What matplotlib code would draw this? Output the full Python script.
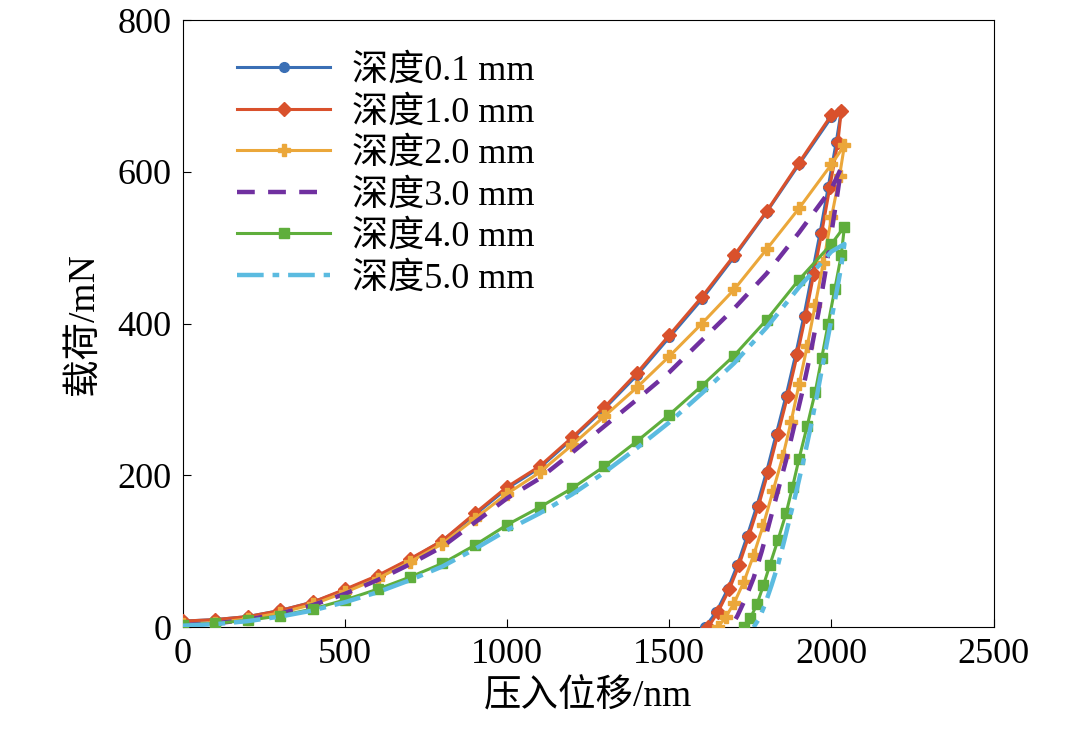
import matplotlib
matplotlib.use("Agg")
import matplotlib.pyplot as plt

plt.rcParams['font.family'] = ['Liberation Serif', 'Noto Sans CJK SC']

labels = ["深度0.1 mm", "深度1.0 mm", "深度2.0 mm", "深度3.0 mm", "深度4.0 mm", "深度5.0 mm"]
colors = ["#3a6fb5", "#d9512c", "#eba73a", "#7030a0", "#5fae3c", "#5bbbe0"]
markers = ["o", "D", "P", None, "s", None]
styles = ["-", "-", "-", (0, (4, 3)), "-", (0, (6, 2, 1.5, 2))]

load_h = [0, 100, 200, 300, 400, 500, 600, 700, 800, 900, 1000, 1100, 1200, 1300,
          1400, 1500, 1600, 1700, 1800, 1900, 2000]
load_p = [
    [8, 10, 14, 22, 33, 49, 67, 89, 114, 148, 183, 210, 248, 288, 332, 382, 432, 488, 547, 610, 672],
    [8, 10, 14, 22, 33, 50, 68, 90, 114, 150, 185, 212, 250, 290, 335, 385, 435, 490, 548, 612, 675],
    [4, 6, 11, 19, 30, 46, 64, 86, 110, 143, 176, 204, 240, 278, 316, 357, 400, 445, 498, 552, 610],
    [3, 5, 10, 18, 29, 44, 62, 83, 106, 138, 170, 196, 230, 265, 300, 336, 378, 420, 466, 520, 578],
    [3, 5, 9, 15, 24, 36, 50, 66, 84, 108, 135, 158, 183, 212, 245, 280, 318, 358, 405, 458, 505],
    [2, 4, 8, 14, 22, 33, 46, 62, 80, 103, 128, 150, 175, 204, 236, 270, 308, 348, 395, 448, 495],
]
peak_h = [2030, 2030, 2040, 2030, 2040, 2040]
peak_p = [680, 680, 635, 605, 528, 505]

unload_h = [
    [2015, 1990, 1965, 1940, 1915, 1890, 1860, 1830, 1800, 1770, 1740, 1710, 1680, 1645, 1610],
    [2020, 1995, 1970, 1945, 1920, 1895, 1865, 1835, 1805, 1775, 1745, 1715, 1685, 1650, 1620],
    [2025, 2000, 1975, 1950, 1925, 1900, 1875, 1850, 1820, 1790, 1760, 1730, 1700, 1675, 1650],
    [2018, 2000, 1980, 1960, 1935, 1910, 1885, 1860, 1835, 1810, 1785, 1760, 1735, 1710, 1690],
    [2030, 2010, 1990, 1970, 1950, 1925, 1900, 1880, 1860, 1835, 1810, 1790, 1770, 1750, 1730],
    [2030, 2015, 1995, 1975, 1955, 1935, 1915, 1895, 1875, 1855, 1835, 1815, 1795, 1778, 1760],
]
unload_p = [
    [640, 580, 520, 465, 410, 360, 305, 255, 205, 160, 120, 82, 50, 20, 0],
    [640, 580, 520, 465, 410, 360, 305, 255, 205, 160, 120, 82, 50, 20, 0],
    [595, 540, 480, 425, 370, 320, 270, 225, 180, 135, 95, 60, 32, 14, 0],
    [570, 520, 465, 415, 360, 310, 265, 220, 180, 140, 100, 65, 38, 15, 0],
    [490, 445, 400, 355, 310, 265, 222, 185, 150, 115, 82, 55, 30, 12, 0],
    [475, 440, 395, 350, 305, 262, 222, 185, 150, 115, 82, 55, 30, 12, 0],
]

fig = plt.figure(figsize=(10.8, 7.44), dpi=100)
ax = fig.add_axes([0.1694, 0.157, 0.7506, 0.816])

for i in range(6):
    h = load_h + [peak_h[i]] + unload_h[i]
    p = load_p[i] + [peak_p[i]] + unload_p[i]
    ax.plot(h, p, color=colors[i], linestyle=styles[i], lw=2.2 if markers[i] else 3.2,
            marker=markers[i], markersize=7 if markers[i] != "P" else 8,
            label=labels[i], zorder=3)

ax.set_xlim(0, 2500)
ax.set_ylim(0, 800)
ax.set_xticks([0, 500, 1000, 1500, 2000, 2500])
ax.set_yticks([0, 200, 400, 600, 800])
ax.tick_params(direction='in', labelsize=26, length=6, pad=8)
ax.set_xlabel("压入位移/nm", fontsize=27, labelpad=6)
ax.set_ylabel("载荷/mN", fontsize=27, labelpad=12)
ax.legend(loc='upper left', fontsize=26, frameon=False, handlelength=2.6,
          labelspacing=0.22, borderaxespad=0.3, handletextpad=0.6,
          bbox_to_anchor=(0.035, 0.985))
fig.savefig("out.png", dpi=100)
